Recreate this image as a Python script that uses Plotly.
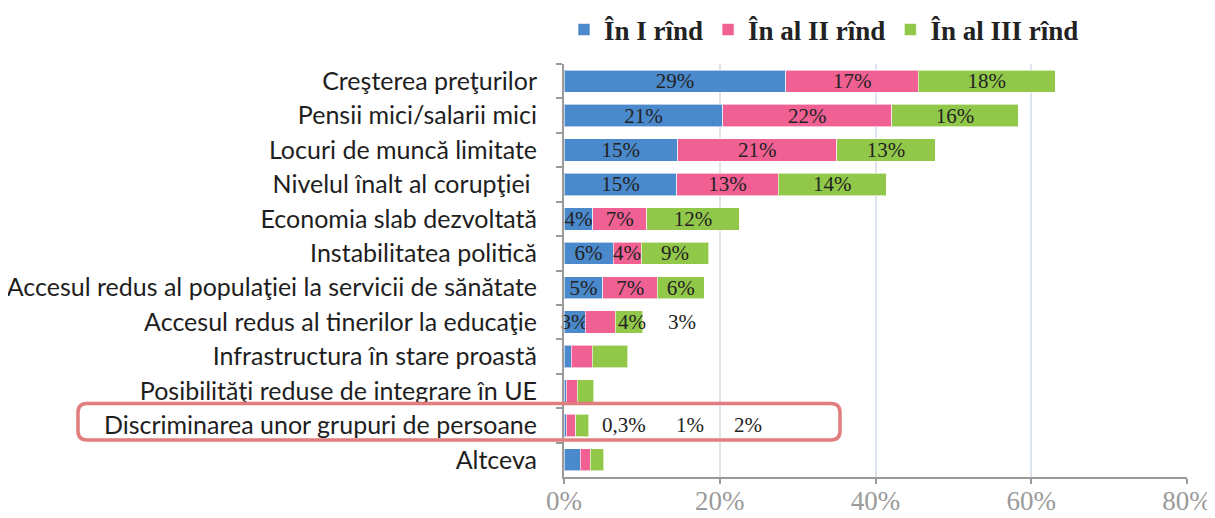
import plotly.graph_objects as go

categories = [
    "Creşterea preţurilor",
    "Pensii mici/salarii mici",
    "Locuri de muncă limitate",
    "Nivelul înalt al corupţiei ",
    "Economia slab dezvoltată",
    "Instabilitatea politică",
    "Accesul redus al populaţiei la servicii de sănătate",
    "Accesul redus al tinerilor la educaţie",
    "Infrastructura în stare proastă",
    "Posibilităţi reduse de integrare în UE",
    "Discriminarea unor grupuri de persoane",
    "Altceva",
]

series_names = ["În I rînd", "În al II rînd", "În al III rînd"]

rank1 = [28.5, 20.4, 14.6, 14.5, 3.7, 6.3, 5.0, 2.7, 0.9, 0.3, 0.3, 2.1]
rank2 = [17.0, 21.7, 20.4, 13.0, 6.9, 3.6, 7.0, 3.9, 2.7, 1.4, 1.2, 1.3]
rank3 = [17.6, 16.2, 12.7, 13.9, 11.9, 8.7, 6.0, 3.5, 4.6, 2.1, 1.7, 1.7]

label1 = ["29%", "21%", "15%", "15%", "4%", "6%", "5%", "3%", "", "", "", ""]
label2 = ["17%", "22%", "21%", "13%", "7%", "4%", "7%", "", "", "", "", ""]
label3 = ["18%", "16%", "13%", "14%", "12%", "9%", "6%", "", "", "", "", ""]

# labels drawn away from their bars (as in the original)
loose_labels = ["4%", "3%", "0,3%", "1%", "2%"]
loose_rows = [7, 7, 10, 10, 10]
loose_x = [8.7, 15.1, 7.7, 16.2, 23.6]

x_ticks = [0, 20, 40, 60, 80]
x_tick_text = ["0%", "20%", "40%", "60%", "80%"]

colors = ["#4A89CB", "#F06093", "#92C84A"]

fig = go.Figure()
for name, vals, labs, col in zip(series_names, [rank1, rank2, rank3],
                                 [label1, label2, label3], colors):
    fig.add_trace(go.Bar(
        name=name, y=categories, x=vals, orientation="h",
        marker=dict(color=col, line=dict(color="rgba(255,255,255,0.6)", width=1)),
        text=labs, textposition="inside", insidetextanchor="middle",
        textangle=0, constraintext="none",
        textfont=dict(family="Liberation Serif", size=21, color="#222222"),
        cliponaxis=False, hoverinfo="skip",
    ))

for t, r, xv in zip(loose_labels, loose_rows, loose_x):
    fig.add_annotation(x=xv, y=categories[r], text=t, showarrow=False,
                       xref="x", yref="y",
                       font=dict(family="Liberation Serif", size=21, color="#222222"))

OFF = 8  # browser body margin
W, H = 1215 - OFF, 518 - OFF
ml, mr, mt, mb = 564 - OFF, 28, 64 - OFF, 41
pw, ph = W - ml - mr, H - mt - mb

def px2paper(x, y):
    # x, y in reference-screen pixels
    return (x - OFF - ml) / pw, (H - mb - (y - OFF)) / ph

# rounded highlight rectangle
x0, x1, y0, y1, rr = 78, 840, 403.5, 440, 9
def P(x, y):
    a, b = px2paper(x, y)
    return f"{a:.5f},{b:.5f}"
path = (f"M {P(x0 + rr, y0)} L {P(x1 - rr, y0)} Q {P(x1, y0)} {P(x1, y0 + rr)} "
        f"L {P(x1, y1 - rr)} Q {P(x1, y1)} {P(x1 - rr, y1)} "
        f"L {P(x0 + rr, y1)} Q {P(x0, y1)} {P(x0, y1 - rr)} "
        f"L {P(x0, y0 + rr)} Q {P(x0, y0)} {P(x0 + rr, y0)} Z")
fig.add_shape(type="path", path=path, xref="paper", yref="paper",
              line=dict(color="#E07E7E", width=3.5), layer="above")

fig.update_layout(
    width=W, height=H,
    barmode="stack", bargap=0.35,
    margin=dict(l=ml, r=mr, t=mt, b=mb, autoexpand=False),
    paper_bgcolor="white", plot_bgcolor="white",
    uniformtext=dict(minsize=21, mode="show"),
    legend=dict(orientation="h", x=0.0, xanchor="left",
                yref="container", y=1 - (30 - OFF) / H, yanchor="middle",
                font=dict(family="Liberation Serif", size=27, color="#222222",
                          weight="bold"),
                traceorder="normal", itemclick=False),
    showlegend=True,
)
fig.update_xaxes(range=[0, 80], tickvals=x_ticks, ticktext=x_tick_text,
                 showgrid=True, gridcolor="#DDE4EE", gridwidth=1.5,
                 showline=True, linecolor="#9A9A9A", linewidth=2,
                 ticks="outside", ticklen=5, tickcolor="#9A9A9A", tickwidth=2,
                 tickfont=dict(family="Liberation Serif", size=27, color="#9A9A9A"),
                 ticklabelstandoff=-6,
                 zeroline=False, fixedrange=True)
fig.update_yaxes(autorange="reversed", type="category",
                 showline=True, linecolor="#9A9A9A", linewidth=2,
                 ticks="outside", ticklen=6, tickcolor="#9A9A9A", tickwidth=2,
                 tickson="boundaries",
                 tickfont=dict(family="Lato", size=25, color="#1E1E1E"),
                 ticklabelstandoff=20, fixedrange=True)

fig.write_html("out.html")
